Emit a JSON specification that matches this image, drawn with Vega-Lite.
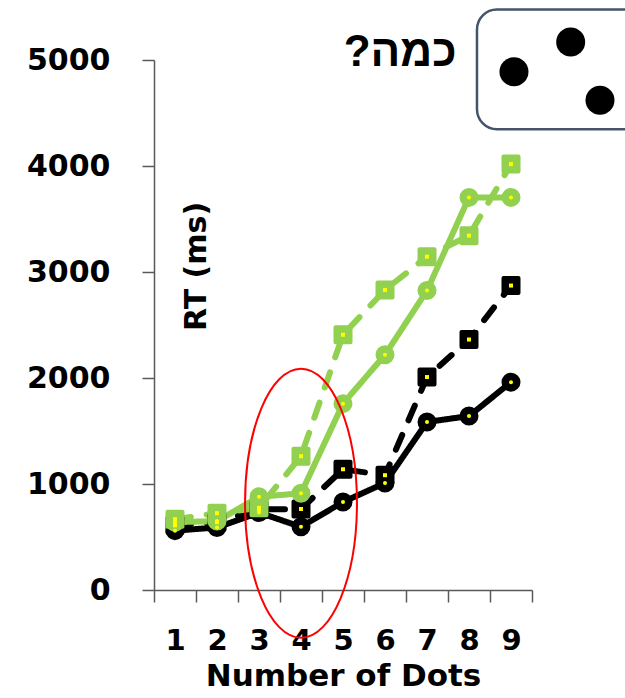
{
  "$schema": "https://vega.github.io/schema/vega-lite/v6.json",
  "width": 378,
  "height": 530,
  "autosize": "none",
  "padding": {"left": 154, "top": 60, "right": 93, "bottom": 108},
  "background": "white",
  "config": {"view": {"stroke": null}, "font": "DejaVu Sans"},
  "datasets": {
    "rt": [
      {"dots": "1", "series": "S1", "rt": 560},
      {"dots": "2", "series": "S1", "rt": 590},
      {"dots": "3", "series": "S1", "rt": 730},
      {"dots": "4", "series": "S1", "rt": 596},
      {"dots": "5", "series": "S1", "rt": 830},
      {"dots": "6", "series": "S1", "rt": 1010},
      {"dots": "7", "series": "S1", "rt": 1585},
      {"dots": "8", "series": "S1", "rt": 1641},
      {"dots": "9", "series": "S1", "rt": 1961},
      {"dots": "1", "series": "S2", "rt": 610},
      {"dots": "2", "series": "S2", "rt": 640},
      {"dots": "3", "series": "S2", "rt": 760},
      {"dots": "4", "series": "S2", "rt": 764},
      {"dots": "5", "series": "S2", "rt": 1139},
      {"dots": "6", "series": "S2", "rt": 1083},
      {"dots": "7", "series": "S2", "rt": 2009},
      {"dots": "8", "series": "S2", "rt": 2363},
      {"dots": "9", "series": "S2", "rt": 2872},
      {"dots": "1", "series": "S3", "rt": 640},
      {"dots": "2", "series": "S3", "rt": 650},
      {"dots": "3", "series": "S3", "rt": 879},
      {"dots": "4", "series": "S3", "rt": 912},
      {"dots": "5", "series": "S3", "rt": 1758},
      {"dots": "6", "series": "S3", "rt": 2219},
      {"dots": "7", "series": "S3", "rt": 2825},
      {"dots": "8", "series": "S3", "rt": 3704},
      {"dots": "9", "series": "S3", "rt": 3704},
      {"dots": "1", "series": "S4", "rt": 668},
      {"dots": "2", "series": "S4", "rt": 725},
      {"dots": "3", "series": "S4", "rt": 775},
      {"dots": "4", "series": "S4", "rt": 1262},
      {"dots": "5", "series": "S4", "rt": 2408},
      {"dots": "6", "series": "S4", "rt": 2831},
      {"dots": "7", "series": "S4", "rt": 3145},
      {"dots": "8", "series": "S4", "rt": 3343},
      {"dots": "9", "series": "S4", "rt": 4018}
    ],
    "highlight": [{"dots": "4", "rt": 819}],
    "box": [{"x1": 8.19, "x2": 12.5, "y1": 4347, "y2": 5477}],
    "stimulus": [
      {"ax": 9.071, "ay": 4890},
      {"ax": 10.421, "ay": 5169},
      {"ax": 11.119, "ay": 4621}
    ],
    "question": [{"ax": 6.36, "ay": 4944, "label": "כמה?‏"}]
  },
  "resolve": {"scale": {"x": "independent"}},
  "layer": [
    {
      "layer": [
        {
          "data": {"name": "rt"},
          "mark": {"type": "line", "strokeWidth": 6, "strokeJoin": "round", "strokeCap": "round"},
          "encoding": {
            "x": {
              "field": "dots", "type": "ordinal", "bandPosition": 0.5,
              "scale": {"type": "band", "paddingInner": 0, "paddingOuter": 0, "domain": ["1","2","3","4","5","6","7","8","9"]},
              "axis": {
                "title": "Number of Dots", "labelAngle": 0, "tickBand": "extent",
                "tickSize": 12, "tickWidth": 1.5, "tickColor": "#595959",
                "domainColor": "#595959", "domainWidth": 1.5,
                "labelFontSize": 29, "labelFontWeight": "bold", "labelColor": "#000000",
                "labelPadding": 24, "titleFontSize": 31, "titleFontWeight": "bold",
                "titleColor": "#000000", "titlePadding": 6, "grid": false
              }
            },
            "y": {
              "field": "rt", "type": "quantitative",
              "scale": {"domain": [0, 5000], "nice": false},
              "axis": {
                "title": "RT (ms)", "values": [0, 1000, 2000, 3000, 4000, 5000], "format": "d",
                "tickSize": 12, "tickWidth": 1.5, "tickColor": "#595959",
                "domainColor": "#595959", "domainWidth": 1.5,
                "labelFontSize": 30, "labelFontWeight": "bold", "labelColor": "#000000",
                "labelPadding": 32, "grid": false,
                "titleFontSize": 30, "titleFontWeight": "bold", "titleColor": "#000000",
                "titleX": 42, "titleY": 206, "titleAngle": -90,
                "titleAlign": "center", "titleBaseline": "middle"
              }
            },
            "color": {
              "field": "series", "type": "nominal", "legend": null,
              "scale": {"domain": ["S1","S2","S3","S4"], "range": ["#000000","#000000","#92D050","#92D050"]}
            },
            "strokeDash": {
              "field": "series", "type": "nominal", "legend": null,
              "scale": {"domain": ["S1","S2","S3","S4"], "range": [[1,0],[16,16],[1,0],[16,16]]}
            }
          }
        },
        {
          "data": {"name": "rt"},
          "mark": {"type": "point", "filled": true, "opacity": 1, "size": 225, "strokeWidth": 4, "strokeJoin": "round"},
          "encoding": {
            "x": {"field": "dots", "type": "ordinal", "bandPosition": 0.5},
            "y": {"field": "rt", "type": "quantitative", "scale": {"domain": [0, 5000], "nice": false}},
            "color": {
              "field": "series", "type": "nominal", "legend": null,
              "scale": {"domain": ["S1","S2","S3","S4"], "range": ["#000000","#000000","#92D050","#92D050"]}
            },
            "stroke": {
              "field": "series", "type": "nominal", "legend": null,
              "scale": {"domain": ["S1","S2","S3","S4"], "range": ["#000000","#000000","#92D050","#92D050"]}
            },
            "shape": {
              "field": "series", "type": "nominal", "legend": null,
              "scale": {"domain": ["S1","S2","S3","S4"], "range": ["circle","square","circle","square"]}
            }
          }
        },
        {
          "data": {"name": "rt"},
          "mark": {"type": "point", "filled": true, "opacity": 1, "size": 16, "color": "#FFFF00", "strokeWidth": 0},
          "encoding": {
            "x": {"field": "dots", "type": "ordinal", "bandPosition": 0.5},
            "y": {"field": "rt", "type": "quantitative", "scale": {"domain": [0, 5000], "nice": false}},
            "shape": {
              "field": "series", "type": "nominal", "legend": null,
              "scale": {"domain": ["S1","S2","S3","S4"], "range": ["circle","square","circle","square"]}
            }
          }
        },
        {
          "data": {"name": "highlight"},
          "mark": {
            "type": "point", "filled": false, "opacity": 1, "size": 72361,
            "stroke": "#FF0000", "strokeWidth": 2,
            "shape": "M0,-1 C0.2297,-1 0.416,-0.5523 0.416,0 C0.416,0.5523 0.2297,1 0,1 C-0.2297,1 -0.416,0.5523 -0.416,0 C-0.416,-0.5523 -0.2297,-1 0,-1 Z"
          },
          "encoding": {
            "x": {"field": "dots", "type": "ordinal", "bandPosition": 0.5},
            "y": {"field": "rt", "type": "quantitative", "scale": {"domain": [0, 5000], "nice": false}}
          }
        }
      ]
    },
    {
      "layer": [
        {
          "data": {"name": "box"},
          "mark": {"type": "rect", "fill": "#FFFFFF", "stroke": "#44546A", "strokeWidth": 2.5, "cornerRadius": 20},
          "encoding": {
            "x": {"field": "x1", "type": "quantitative", "scale": {"domain": [0.5, 9.5], "nice": false, "zero": false}, "axis": null},
            "x2": {"field": "x2"},
            "y": {"field": "y1", "type": "quantitative", "scale": {"domain": [0, 5000], "nice": false}},
            "y2": {"field": "y2"}
          }
        },
        {
          "data": {"name": "stimulus"},
          "mark": {"type": "point", "filled": true, "opacity": 1, "size": 841, "color": "#000000"},
          "encoding": {
            "x": {"field": "ax", "type": "quantitative", "axis": null},
            "y": {"field": "ay", "type": "quantitative", "scale": {"domain": [0, 5000], "nice": false}}
          }
        },
        {
          "data": {"name": "question"},
          "mark": {"type": "text", "font": "Liberation Sans", "fontSize": 44, "fontWeight": "bold", "align": "center", "baseline": "alphabetic", "color": "#000000"},
          "encoding": {
            "x": {"field": "ax", "type": "quantitative", "axis": null},
            "y": {"field": "ay", "type": "quantitative", "scale": {"domain": [0, 5000], "nice": false}},
            "text": {"field": "label"}
          }
        }
      ]
    }
  ]
}
